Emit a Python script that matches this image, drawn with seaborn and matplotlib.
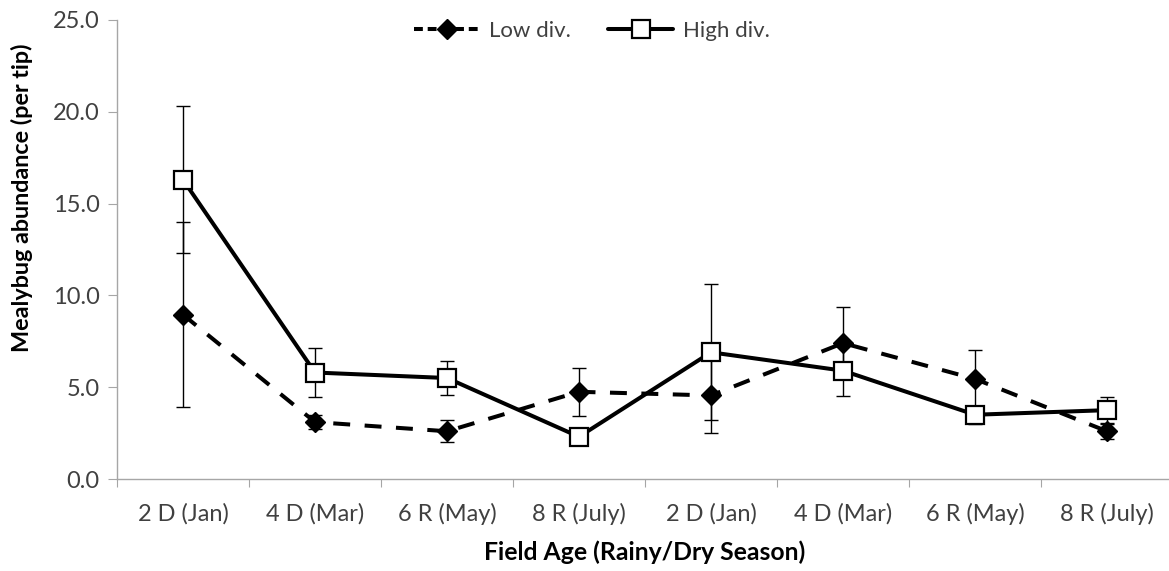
import numpy as np
import pandas as pd
import matplotlib
matplotlib.use("Agg")
import matplotlib.pyplot as plt
from matplotlib.lines import Line2D
from matplotlib.ticker import FixedLocator, FormatStrFormatter, NullFormatter
import seaborn as sns

# Field age / season categories along the x axis
categories = ["2 D (Jan)", "4 D (Mar)", "6 R (May)", "8 R (July)",
              "2 D (Jan)", "4 D (Mar)", "6 R (May)", "8 R (July)"]

# Mean mealybug abundance per tip and error (+/-) for each diversity level
low_div = [8.95, 3.1, 2.6, 4.75, 4.55, 7.4, 5.45, 2.6]
low_div_err = [5.05, 0.4, 0.6, 1.3, 2.05, 1.95, 1.55, 0.4]
high_div = [16.3, 5.8, 5.5, 2.3, 6.9, 5.9, 3.5, 3.75]
high_div_err = [4.0, 1.35, 0.9, 0.4, 3.7, 1.4, 0.5, 0.7]

sns.set_theme(style="white")
plt.rcParams["font.family"] = ["Lato", "DejaVu Sans"]

pos = np.arange(len(categories))
df = pd.DataFrame({
    "pos": np.concatenate([pos, pos]),
    "value": low_div + high_div,
    "group": ["Low div."] * len(pos) + ["High div."] * len(pos),
})

fig = plt.figure(figsize=(11.69, 5.71), dpi=100)
ax = fig.add_axes([117 / 1169, 92 / 571, 1056 / 1169, 459 / 571])

grey = "#a6a6a6"
txt = "#404040"

# error bars sit behind the series lines and markers
ax.errorbar(pos, low_div, yerr=low_div_err, fmt="none", ecolor="black",
            elinewidth=1.0, capsize=5, capthick=1.0, zorder=2)
ax.errorbar(pos, high_div, yerr=high_div_err, fmt="none", ecolor="black",
            elinewidth=1.0, capsize=5, capthick=1.0, zorder=2)

low_df = df[df["group"] == "Low div."]
high_df = df[df["group"] == "High div."]

sns.lineplot(data=low_df, x="pos", y="value", ax=ax, color="black",
             linewidth=2.9, linestyle=(0, (4.2, 3.6)),
             marker="D", markersize=10.5, markerfacecolor="black",
             markeredgecolor="black", markeredgewidth=1.0,
             errorbar=None, legend=False, zorder=3)
sns.lineplot(data=high_df, x="pos", y="value", ax=ax, color="black",
             linewidth=2.9, linestyle="-",
             marker="s", markersize=13.5, markerfacecolor="white",
             markeredgecolor="black", markeredgewidth=1.6,
             errorbar=None, legend=False, zorder=4)

ax.set_xlim(-0.5, len(categories) - 0.5)
ax.set_ylim(0, 25)

# y axis
ax.set_yticks(np.arange(0, 25.1, 5))
ax.yaxis.set_major_formatter(FormatStrFormatter("%.1f"))
ax.tick_params(axis="y", which="major", direction="out", length=6.5,
               width=0.8, color=grey, labelsize=17, labelcolor=txt, pad=6,
               left=True)

# x axis: ticks between categories, labels at category centres
ax.xaxis.set_major_locator(FixedLocator(np.arange(-0.5, len(categories), 1.0)))
ax.xaxis.set_major_formatter(NullFormatter())
ax.xaxis.set_minor_locator(FixedLocator(pos))
ax.set_xticklabels(categories, minor=True)
ax.tick_params(axis="x", which="major", direction="out", length=6,
               width=0.8, color=grey, bottom=True)
ax.tick_params(axis="x", which="minor", length=0, labelsize=17,
               labelcolor=txt, pad=17)

for side in ["top", "right"]:
    ax.spines[side].set_visible(False)
for side in ["left", "bottom"]:
    ax.spines[side].set_color(grey)
    ax.spines[side].set_linewidth(1.0)

ax.set_xlabel("Field Age (Rainy/Dry Season)", fontsize=17.8, fontweight="bold",
              color="black", va="center")
ax.set_ylabel("Mealybug abundance (per tip)", fontsize=16.8, fontweight="bold",
              color="black", va="center")
ax.xaxis.set_label_coords(0.5, -(552 - 479) / 459)
ax.yaxis.set_label_coords(-(117 - 22) / 1056, (479 - 198) / 459)

handles = [
    Line2D([], [], color="black", linewidth=2.9, linestyle=(0, (2.2, 1.2)),
           marker="D", markersize=10.5, markerfacecolor="black",
           markeredgecolor="black"),
    Line2D([], [], color="black", linewidth=2.9, linestyle="-",
           marker="s", markersize=13.5, markerfacecolor="white",
           markeredgecolor="black", markeredgewidth=1.6),
]
fig.legend(handles, ["Low div.", "High div."], loc="center",
           bbox_to_anchor=(592 / 1169, 1 - 31 / 571), ncol=2, frameon=False,
           fontsize=16, handlelength=2.9, handletextpad=0.45,
           columnspacing=1.7, labelcolor=txt)

fig.savefig("out.png", dpi=100)
